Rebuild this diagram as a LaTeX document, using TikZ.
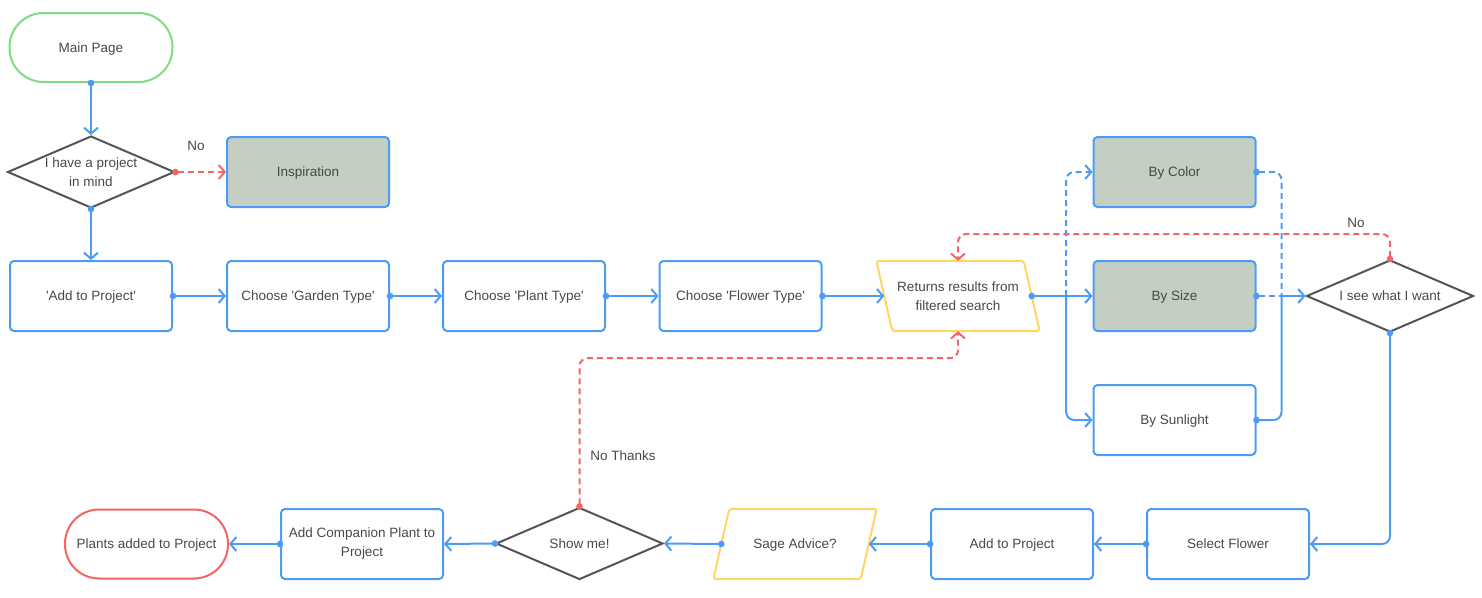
\documentclass[tikz,border=0pt]{standalone}
\usepackage{fontspec}
\setmainfont{Liberation Sans}[Ligatures=TeXOff]
\usetikzlibrary{arrows.meta,shapes.geometric,calc}
\definecolor{fblue}{HTML}{4C9BF5}
\definecolor{fred}{HTML}{F46464}
\definecolor{fgreen}{HTML}{7EDC7E}
\definecolor{fyellow}{HTML}{FFD666}
\definecolor{fgray}{HTML}{555555}
\definecolor{ffill}{HTML}{C5CEC3}
\definecolor{ftext}{HTML}{484848}
\begin{document}
\begin{tikzpicture}[x=1pt,y=-1pt,
  every node/.style={font=\fontsize{13.5}{19}\selectfont, text=ftext, align=center},
  one/.style={text depth=0pt},
  box/.style={draw=fblue, line width=2pt, rounded corners=4pt, minimum width=162pt, minimum height=70pt, inner sep=0pt},
  graybox/.style={box, fill=ffill},
  pill/.style={draw=#1, line width=2pt, rounded corners=34pt, minimum width=163pt, minimum height=69pt, inner sep=0pt},
  dec/.style={diamond, draw=fgray, line width=2pt, minimum width=167pt, minimum height=72pt, inner sep=0pt, aspect=2.3},
  paranode/.style={minimum width=163pt, minimum height=70pt, inner sep=0pt},
  paraedge/.style={draw=fyellow, line width=2pt, rounded corners=3pt},
  conn/.style={draw=#1, line width=2pt, rounded corners=8pt},
  tip/.style={-{Straight Barb[length=6pt,width=14pt]}},
  startdot/.style={{Circle[length=6.5pt]}-, shorten <=-3.25pt},
  dottip/.style={{Circle[length=6.5pt]}-{Straight Barb[length=6pt,width=14pt]}, shorten <=-3.25pt},
  dashpat/.style={dash pattern=on 6pt off 4pt},
  lbl/.style={inner sep=0pt}
]
\useasboundingbox (0,0) rectangle (1482,597);

% nodes
\node[pill=fgreen, one] (main) at (91,47.5) {Main Page};
\node[dec] (proj) at (91,172) {I have a project\\in mind};
\node[graybox, one] (insp) at (308,172) {Inspiration};

\node[box, one] (add1) at (91,296) {'Add to Project'};
\node[box, one] (garden) at (308,296) {Choose 'Garden Type'};
\node[box, one] (plant) at (524,296) {Choose 'Plant Type'};
\node[box, one] (flower) at (740.5,296) {Choose 'Flower Type'};
\node[paranode] (ret) at (958,296) {Returns results from\\filtered search};
\draw[paraedge] (ret.north west) -- ([xshift=-16pt]ret.north east) -- (ret.south east) -- ([xshift=16pt]ret.south west) -- cycle;

\node[graybox, one] (color) at (1174.5,172) {By Color};
\node[graybox, one] (size) at (1174.5,296) {By Size};
\node[box, one] (sun) at (1174.5,420) {By Sunlight};
\node[dec, one] (want) at (1390,296) {I see what I want};

\node[pill=fred, one] (done) at (146.5,544) {Plants added to Project};
\node[box] (comp) at (362,544) {Add Companion Plant to\\Project};
\node[dec, one] (show) at (579.5,543.5) {Show me!};
\node[paranode, one] (sage) at (795,544) {Sage Advice?};
\draw[paraedge] ([xshift=16pt]sage.north west) -- (sage.north east) -- ([xshift=-16pt]sage.south east) -- (sage.south west) -- cycle;
\node[box, one] (add2) at (1012,544) {Add to Project};
\node[box, one] (sel) at (1228,544) {Select Flower};

% labels
\node[lbl] (lno1) at (196,146) {No};
\node[lbl] (lno2) at (1356,223) {No};
\node[lbl] (lnt) at (623,456) {No Thanks};

% connectors
\draw[conn=fblue, dottip] (main.south) -- (proj.north);
\draw[conn=fred, dottip, dashpat] (proj.east) -- (insp.west);
\draw[conn=fblue, dottip] (proj.south) -- (add1.north);
\draw[conn=fblue, dottip] (add1.east) -- (garden.west);
\draw[conn=fblue, dottip] (garden.east) -- (plant.west);
\draw[conn=fblue, dottip] (plant.east) -- (flower.west);
\draw[conn=fblue, dottip] (flower.east) -- ([xshift=8pt]ret.west);

\coordinate (j1) at ($(ret.east)+(26.5,0)$);
\coordinate (j2) at ($(want.west)+(-24,0)$);
\draw[conn=fblue, dottip] ([xshift=-8pt]ret.east) -- (size.west);
\draw[conn=fblue, tip, dashpat] (j1) |- (color.west);
\draw[conn=fblue, tip] (j1) |- (sun.west);
\draw[conn=fblue, startdot, dashpat] (color.east) -| (j2);
\draw[conn=fblue, startdot, dashpat] (size.east) -- (j2);
\draw[conn=fblue, startdot] (sun.east) -| (j2);
\draw[conn=fblue, tip] (j2) -- (want.west);

\draw[conn=fred, dottip, dashpat] (want.north) -- ++(0,-25) -| (ret.north);
\draw[conn=fblue, dottip] (want.south) |- (sel.east);

\draw[conn=fblue, dottip] (sel.west) -- (add2.east);
\draw[conn=fblue, dottip] (add2.west) -- ([xshift=-8pt]sage.east);
\draw[conn=fblue, dottip] ([xshift=8pt]sage.west) -- (show.east);
\draw[conn=fblue, dottip] (show.west) -- (comp.east);
\draw[conn=fblue, dottip] (comp.west) -- (done.east);

\draw[conn=fred, dottip, dashpat] (show.north) |- ($(ret.south)+(0,27)$) -- (ret.south);
\end{tikzpicture}
\end{document}
